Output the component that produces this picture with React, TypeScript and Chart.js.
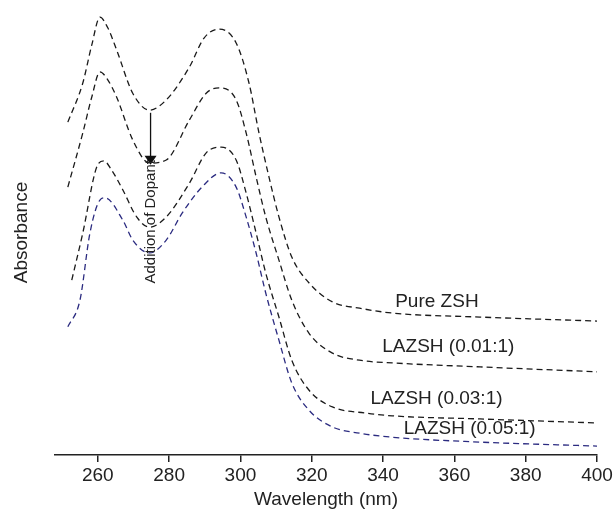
import React, { useEffect, useRef } from "react";
import { Chart, registerables } from "chart.js";

Chart.register(...registerables);

// ---- data (wavelength in nm, absorbance in arbitrary units) ----
const pureWl = [251.6, 255.8, 258.3, 260.6, 262.8, 265.3, 269.8, 274.5, 279.2, 285.7, 289.8, 294.0, 298.8, 302.4, 305.2, 308.0, 310.8, 314.4, 319.2, 325.8, 333.4, 342.6, 367.2, 400];
const pureAbs = [0.748, 0.836, 0.921, 0.984, 0.960, 0.910, 0.813, 0.775, 0.798, 0.872, 0.937, 0.957, 0.926, 0.836, 0.724, 0.625, 0.535, 0.445, 0.387, 0.344, 0.330, 0.319, 0.310, 0.301];

const la01Wl = [251.6, 255.8, 258.3, 260.6, 262.8, 265.3, 269.8, 274.5, 279.2, 285.7, 290.4, 294.0, 298.8, 301.6, 304.4, 307.1, 310.8, 314.4, 319.2, 325.8, 333.4, 342.6, 367.2, 400];
const la01Abs = [0.602, 0.724, 0.804, 0.861, 0.843, 0.804, 0.708, 0.656, 0.663, 0.753, 0.813, 0.825, 0.798, 0.724, 0.625, 0.535, 0.438, 0.348, 0.274, 0.229, 0.213, 0.207, 0.198, 0.187];

const la03Wl = [252.7, 255.8, 259.7, 261.7, 263.9, 267.0, 270.9, 274.5, 279.2, 285.7, 290.4, 294.6, 298.8, 301.6, 304.4, 307.1, 310.8, 314.4, 319.2, 325.8, 335.3, 342.6, 367.2, 400];
const la03Abs = [0.393, 0.499, 0.647, 0.661, 0.640, 0.596, 0.535, 0.512, 0.535, 0.611, 0.679, 0.692, 0.663, 0.589, 0.499, 0.409, 0.310, 0.213, 0.146, 0.108, 0.094, 0.088, 0.081, 0.072];

const la05Wl = [251.6, 255.0, 257.8, 260.6, 262.0, 267.0, 269.8, 274.5, 279.2, 283.7, 289.2, 294.6, 298.8, 301.6, 304.4, 307.1, 310.8, 314.4, 319.2, 325.8, 333.4, 342.6, 367.2, 400];
const la05Abs = [0.288, 0.348, 0.499, 0.573, 0.578, 0.528, 0.483, 0.454, 0.483, 0.544, 0.602, 0.634, 0.602, 0.535, 0.454, 0.364, 0.258, 0.162, 0.101, 0.063, 0.049, 0.040, 0.029, 0.020];

const xTicks = [260, 280, 300, 320, 340, 360, 380, 400];

// series labels placed in data coordinates
const seriesNames = ["Pure ZSH", "LAZSH (0.01:1)", "LAZSH (0.03:1)", "LAZSH (0.05:1)"];
const labelWl = [355.1, 358.3, 355.0, 364.3];
const labelAbs = [0.344, 0.243, 0.126, 0.058];

// arrow annotation (data coordinates)
const arrowWl = 274.8;
const arrowFrom = 0.769;
const arrowTo = 0.652;
const arrowTextAbs = 0.524;
const arrowText = "Addition of Dopant";

const FONT = "Arial, 'Liberation Sans', Helvetica, sans-serif";
const TEXT = "#222";

const toPts = (xs: number[], ys: number[]) => xs.map((x, i) => ({ x, y: ys[i] }));

const annotPlugin = {
  id: "annot",
  afterDatasetsDraw(chart: any) {
    const { ctx, scales } = chart;
    const xs = scales.x;
    const ys = scales.y;
    ctx.save();
    ctx.fillStyle = TEXT;
    ctx.font = `19px ${FONT}`;
    ctx.textAlign = "center";
    ctx.textBaseline = "middle";
    seriesNames.forEach((n, i) => {
      ctx.fillText(n, xs.getPixelForValue(labelWl[i]), ys.getPixelForValue(labelAbs[i]));
    });
    // arrow
    const ax = xs.getPixelForValue(arrowWl);
    const y0 = ys.getPixelForValue(arrowFrom);
    const y1 = ys.getPixelForValue(arrowTo);
    ctx.strokeStyle = "#111";
    ctx.lineWidth = 1.3;
    ctx.beginPath();
    ctx.moveTo(ax, y0);
    ctx.lineTo(ax, y1 - 8);
    ctx.stroke();
    ctx.fillStyle = "#111";
    ctx.beginPath();
    ctx.moveTo(ax - 6, y1 - 9);
    ctx.lineTo(ax + 6, y1 - 9);
    ctx.lineTo(ax, y1);
    ctx.closePath();
    ctx.fill();
    // rotated text
    const ty = ys.getPixelForValue(arrowTextAbs);
    ctx.translate(ax, ty);
    ctx.rotate(-Math.PI / 2);
    ctx.fillStyle = TEXT;
    ctx.font = `15px ${FONT}`;
    ctx.fillText(arrowText, 0, 0);
    ctx.restore();
  },
};

export default function App() {
  const ref = useRef<HTMLCanvasElement | null>(null);
  useEffect(() => {
    if (!ref.current) return;
    const dash = [6, 4];
    const mk = (label: string, xs: number[], ys: number[], color: string) => ({
      label,
      data: toPts(xs, ys),
      borderColor: color,
      borderWidth: 1.3,
      borderDash: dash,
      pointRadius: 0,
      fill: false,
      cubicInterpolationMode: "monotone" as const,
    });
    const chart = new Chart(ref.current, {
      type: "line",
      data: {
        datasets: [
          mk("Pure ZSH", pureWl, pureAbs, "#1a1a1a"),
          mk("LAZSH (0.01:1)", la01Wl, la01Abs, "#1a1a1a"),
          mk("LAZSH (0.03:1)", la03Wl, la03Abs, "#1a1a1a"),
          mk("LAZSH (0.05:1)", la05Wl, la05Abs, "#2b2b80"),
        ],
      },
      options: {
        animation: false,
        responsive: false,
        layout: { padding: { left: 6, right: 19, top: 10, bottom: 0 } },
        plugins: { legend: { display: false }, tooltip: { enabled: false } },
        scales: {
          x: {
            type: "linear",
            min: 248,
            max: 400,
            afterBuildTicks: (s: any) => {
              s.ticks = xTicks.map((v) => ({ value: v }));
            },
            afterFit: (s: any) => {
              s.height = 57;
            },
            grid: { drawOnChartArea: false, drawTicks: true, tickLength: 7, color: "#222", lineWidth: 1.5 },
            border: { color: "#222", width: 1.5 },
            ticks: { color: TEXT, font: { family: FONT, size: 19 }, padding: 2, autoSkip: false, maxRotation: 0 },
            title: { display: true, text: "Wavelength (nm)", color: TEXT, font: { family: FONT, size: 19 }, padding: { top: 0, bottom: 1 } },
          },
          y: {
            type: "linear",
            min: 0,
            max: 1,
            afterFit: (s: any) => {
              s.width = 49;
            },
            grid: { display: false },
            border: { display: false },
            ticks: { display: false },
            title: { display: true, text: "Absorbance", color: TEXT, font: { family: FONT, size: 19 }, padding: 4 },
          },
        },
      },
      plugins: [annotPlugin],
    });
    return () => chart.destroy();
  }, []);
  return (
    <div style={{ position: "absolute", left: 0, top: 0, width: 616, height: 512, background: "#fff" }}>
      <canvas ref={ref} width={616} height={512} />
    </div>
  );
}
